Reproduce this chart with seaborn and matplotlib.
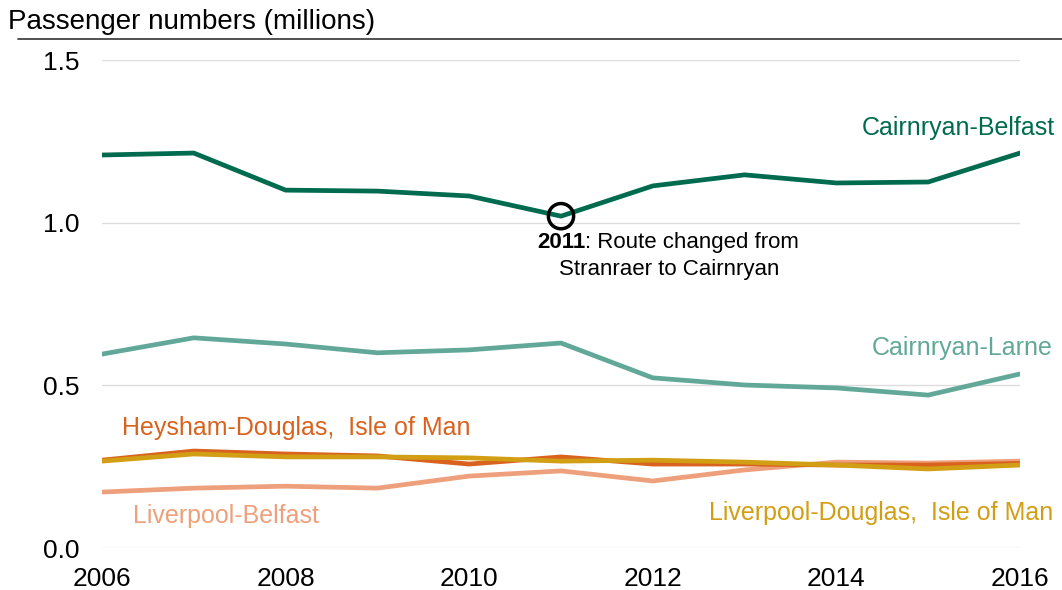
import pandas as pd
import numpy as np
import matplotlib.pyplot as plt
import seaborn as sns

# Passenger numbers by route (millions)
years = list(range(2006, 2017))
cairnryan_belfast = [1.208, 1.214, 1.100, 1.097, 1.082, 1.020, 1.113, 1.147, 1.122, 1.125, 1.214]
cairnryan_larne = [0.596, 0.646, 0.627, 0.600, 0.609, 0.630, 0.523, 0.501, 0.492, 0.470, 0.535]
heysham_douglas = [0.270, 0.298, 0.289, 0.283, 0.258, 0.280, 0.258, 0.258, 0.255, 0.255, 0.260]
liverpool_douglas = [0.267, 0.289, 0.280, 0.280, 0.277, 0.267, 0.270, 0.264, 0.255, 0.243, 0.255]
liverpool_belfast = [0.172, 0.184, 0.190, 0.184, 0.221, 0.237, 0.206, 0.240, 0.264, 0.261, 0.267]

routes = ["Cairnryan-Belfast", "Cairnryan-Larne", "Liverpool-Belfast",
          "Heysham-Douglas, Isle of Man", "Liverpool-Douglas, Isle of Man"]
colours = {
    "Cairnryan-Belfast": "#006b4f",
    "Cairnryan-Larne": "#62a898",
    "Heysham-Douglas, Isle of Man": "#d9621e",
    "Liverpool-Belfast": "#eda07b",
    "Liverpool-Douglas, Isle of Man": "#d29f14",
}

df = pd.DataFrame({
    "year": years * 5,
    "passengers": cairnryan_belfast + cairnryan_larne + liverpool_belfast
                  + heysham_douglas + liverpool_douglas,
    "route": np.repeat(routes, len(years)),
})

sns.set_style("white")
plt.rcParams["font.family"] = ["Liberation Sans", "DejaVu Sans"]
plt.rcParams["text.color"] = "black"

fig = plt.figure(figsize=(10.62, 5.9), dpi=100)
ax = fig.add_axes([102 / 1062, 42 / 590, 918 / 1062, 488 / 590])

sns.lineplot(data=df, x="year", y="passengers", hue="route", palette=colours,
             hue_order=routes, linewidth=3.4, legend=False, ax=ax)

ax.set_xlim(2006, 2016)
ax.set_ylim(0, 1.5)
ax.set_xticks([2006, 2008, 2010, 2012, 2014, 2016])
ax.set_yticks([0, 0.5, 1.0, 1.5])
ax.set_yticklabels(["0.0", "0.5", "1.0", "1.5"])
ax.tick_params(labelsize=19, length=0, labelcolor="black")
ax.tick_params(axis="x", pad=14)
ax.tick_params(axis="y", pad=16)
ax.set_xlabel("")
ax.set_ylabel("")
ax.grid(axis="y", color="#dddddd", linewidth=1)
sns.despine(ax=ax, left=True, bottom=True)
ax.set_axisbelow(True)

# series labels
fs = 18
ax.text(2016.38, 1.29, "Cairnryan-Belfast", color=colours["Cairnryan-Belfast"],
        fontsize=fs, ha="right", va="center", clip_on=False)
ax.text(2016.35, 0.615, "Cairnryan-Larne", color=colours["Cairnryan-Larne"],
        fontsize=fs, ha="right", va="center", clip_on=False)
ax.text(2006.22, 0.369, "Heysham-Douglas,  Isle of Man",
        color=colours["Heysham-Douglas, Isle of Man"], fontsize=fs, ha="left", va="center")
ax.text(2006.34, 0.098, "Liverpool-Belfast", color=colours["Liverpool-Belfast"],
        fontsize=fs, ha="left", va="center")
ax.text(2016.36, 0.108, "Liverpool-Douglas,  Isle of Man",
        color=colours["Liverpool-Douglas, Isle of Man"], fontsize=fs, ha="right",
        va="center", clip_on=False)

# annotation for route change
ax.scatter([2011], [cairnryan_belfast[5]], s=330, facecolors="none",
           edgecolors="black", linewidths=2.5, zorder=5)
t1 = ax.text(2010.74, 0.938, "2011", fontsize=16, fontweight="bold", ha="left", va="center")
ax.annotate(": Route changed from", xy=(1, 0), xycoords=t1, fontsize=16,
            ha="left", va="bottom")
ax.text(2010.98, 0.855, "Stranraer to Cairnryan", fontsize=16, ha="left", va="center")

# title and rule
fig.text(8 / 1062, 1 - 22 / 590, "Passenger numbers (millions)", fontsize=20,
         ha="left", va="center")
fig.add_artist(plt.Line2D([18 / 1062, 1], [1 - 39 / 590, 1 - 39 / 590],
                          color="#333333", linewidth=1.2))

fig.savefig("out.png", dpi=100)
